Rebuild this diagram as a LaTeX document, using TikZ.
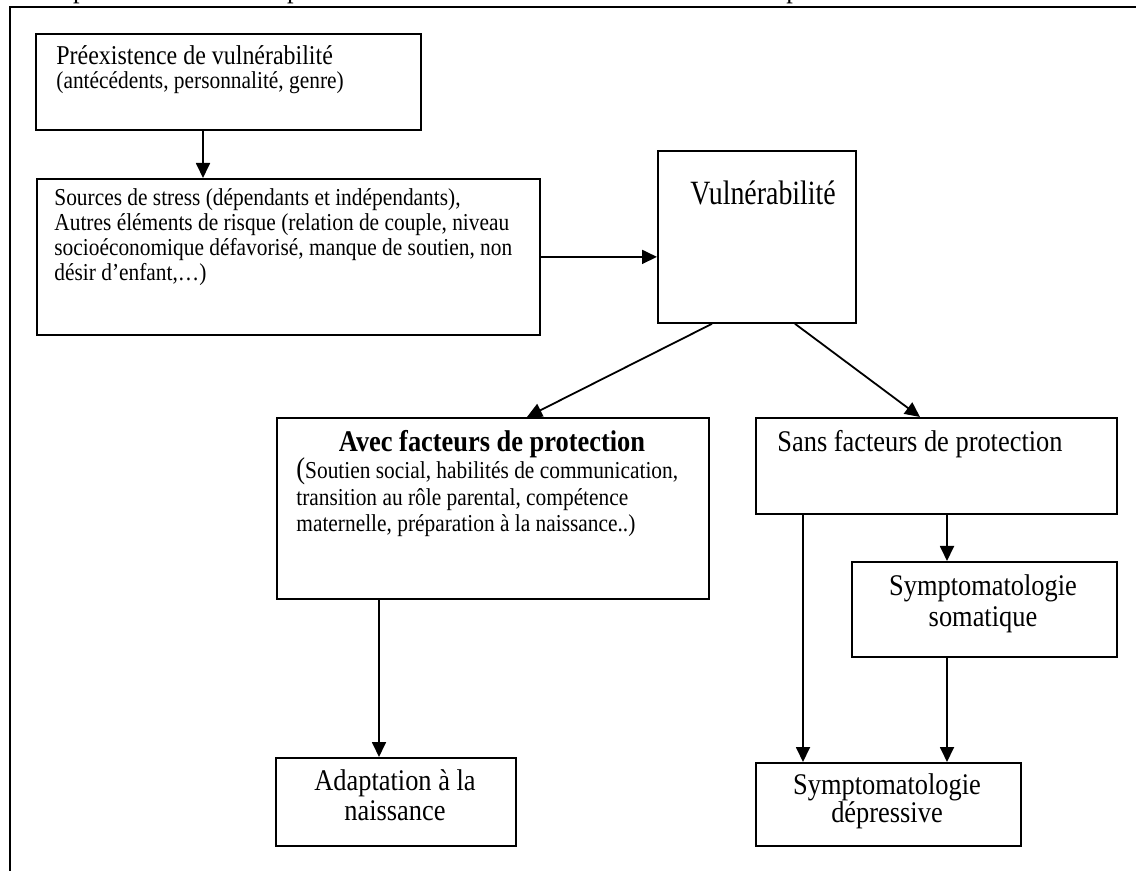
\documentclass[tikz,border=0pt]{standalone}
\usepackage{fontspec}
\usepackage{graphicx}
\setmainfont{Liberation Serif}
\usetikzlibrary{arrows.meta}
\newcommand\normtxt{\fontsize{15}{17}\selectfont}
\newcommand\smalltxt{\fontsize{12.15}{12.5}\selectfont}
\newcommand\hs[1]{\scalebox{0.88}[1]{#1}}
\begin{document}
\begin{tikzpicture}[x=0.5pt,y=-0.5pt,
  box/.style={draw, line width=0.9pt, inner sep=0pt, anchor=north west},
  lbl/.style={inner sep=0pt, anchor=base west},
  clbl/.style={inner sep=0pt, anchor=base},
  arr/.style={line width=0.9pt, -{Triangle[length=7.5pt,width=7pt]}}]
\useasboundingbox (0,0) rectangle (1136,871);
\clip (0,0) rectangle (1136,871);
% clipped heading line and open frame
\node[lbl] (title) at (36,-2) {\hs{\normtxt adaptation et facteurs à partir du modèle de Vulnérabilité / Stress d'adaptation}};
\draw[line width=1pt] (1150,7) -- (10,7) -- (10,880);
% boxes
\node[box, minimum width=192.5pt, minimum height=48pt] (b1) at (35,33) {};
\node[box, minimum width=251.5pt, minimum height=78pt] (b2) at (36,178) {};
\node[box, minimum width=99pt, minimum height=86pt] (b3) at (657,150) {};
\node[box, minimum width=216pt, minimum height=90.5pt] (b4) at (276,417) {};
\node[box, minimum width=180.5pt, minimum height=48pt] (b5) at (755,417) {};
\node[box, minimum width=132.5pt, minimum height=47.5pt] (b6) at (851,561) {};
\node[box, minimum width=120pt, minimum height=44pt] (b7) at (275,757) {};
\node[box, minimum width=132.5pt, minimum height=41.5pt] (b8) at (755,762) {};
% texts
\node[lbl] (t1) at (56,65) {\hs{\parbox[t]{210pt}{\raggedright\fontsize{13.6}{12}\selectfont Préexistence de vulnérabilité\\\fontsize{12.15}{12}\selectfont(antécédents, personnalité, genre)}}};
\node[lbl] (t2) at (54,206) {\hs{\parbox[t]{290pt}{\raggedright\smalltxt Sources de stress (dépendants et indépendants),\\Autres éléments de risque (relation de couple, niveau\\socioéconomique défavorisé, manque de soutien, non\\désir d’enfant,…)}}};
\node[lbl] (t3) at (690,205) {\scalebox{0.82}[1]{\fontsize{17}{19}\selectfont Vulnérabilité}};
\node[clbl] (t4a) at (492,452) {\hs{\bfseries\normtxt Avec facteurs de protection}};
\node[lbl] (t4b) at (296,479) {\hs{\parbox[t]{235pt}{\raggedright\fontsize{12.15}{13.25}\selectfont{\normtxt(}Soutien social, habilités de communication,\\transition au rôle parental, compétence\\maternelle, préparation à la naissance..)}}};
\node[lbl] (t5) at (777,452) {\hs{\normtxt Sans facteurs de protection}};
\node[clbl] (t6) at (983,596) {\hs{\parbox[t]{150pt}{\centering\fontsize{15}{15.5}\selectfont Symptomatologie\\somatique}}};
\node[clbl] (t7) at (395,790) {\hs{\parbox[t]{135pt}{\centering\fontsize{15}{15}\selectfont Adaptation à la\\naissance}}};
\node[clbl] (t8) at (887,794) {\hs{\parbox[t]{150pt}{\centering\fontsize{15}{14}\selectfont Symptomatologie\\dépressive}}};
% connectors
\draw[arr] ([xshift=84pt]b1.south west) -- ([xshift=83.5pt]b2.north west);
\draw[arr] (b2.east) -- (b2.east -| b3.west);
\draw[arr] ([xshift=27.5pt]b3.south west) -- ([xshift=125.5pt]b4.north west);
\draw[arr] ([xshift=69pt]b3.south west) -- ([xshift=82.5pt]b5.north west);
\draw[arr] ([xshift=51.5pt]b4.south west) -- ([xshift=52pt]b7.north west);
\draw[arr] ([xshift=96pt]b5.south west) -- ([xshift=48pt]b6.north west);
\draw[arr] ([xshift=24pt]b5.south west) -- ([xshift=24pt]b8.north west);
\draw[arr] ([xshift=48pt]b6.south west) -- ([xshift=96pt]b8.north west);
\end{tikzpicture}
\end{document}
